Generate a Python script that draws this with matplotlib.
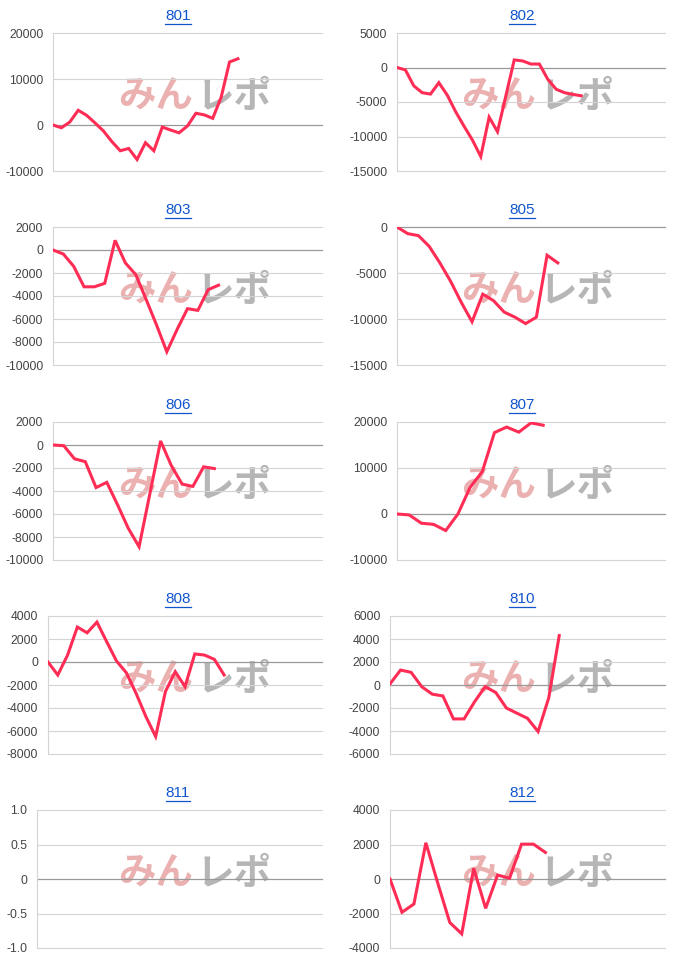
import matplotlib
matplotlib.use('Agg')
import matplotlib.pyplot as plt
from matplotlib.lines import Line2D

plt.rcParams['font.family'] = ['Liberation Sans', 'DejaVu Sans']

# data, one list per machine
titles = ['801', '802', '803', '805', '806', '807', '808', '810', '811', '812']
d801 = [0, -600, 650, 3200, 2100, 450, -1300, -3600, -5600, -5100, -7500, -3850,
        -5600, -450, -1100, -1700, -200, 2550, 2200, 1450, 6000, 13700, 14400]
d802 = [0, -350, -2650, -3650, -3850, -2200, -4000, -6400, -8500, -10500, -12900,
        -7200, -9300, -4100, 1100, 950, 500, 500, -1700, -3150, -3650, -3900, -4100]
d803 = [0, -350, -1420, -3200, -3200, -2900, 840, -1130, -2140, -4300, -6500,
        -8850, -6900, -5100, -5250, -3450, -3060]
d805 = [0, -720, -940, -2100, -3900, -5900, -8200, -10300, -7300, -8000, -9250,
        -9800, -10500, -9800, -3070, -3900]
d806 = [0, -60, -1200, -1450, -3700, -3250, -5200, -7250, -8850, -4250, 350,
        -1800, -3400, -3600, -1900, -2050]
d807 = [0, -200, -2000, -2250, -3600, 0, 5800, 9200, 17700, 18900, 17800, 19800, 19300]
d808 = [0, -1130, 600, 3040, 2540, 3470, 1760, 90, -930, -2720, -4740, -6480,
        -2570, -840, -2140, 700, 600, 230, -1130]
d810 = [100, 1300, 1100, -150, -800, -950, -2950, -2950, -1450, -150, -650,
        -2000, -2450, -2900, -4050, -1150, 4300]
d811 = []
d812 = [0, -1930, -1450, 2100, -250, -2520, -3180, 620, -1700, 230, 40, 2020, 2020, 1540]

series = [d801, d802, d803, d805, d806, d807, d808, d810, d811, d812]

yticks = [
    [-10000, 0, 10000, 20000],
    [-15000, -10000, -5000, 0, 5000],
    [-10000, -8000, -6000, -4000, -2000, 0, 2000],
    [-15000, -10000, -5000, 0],
    [-10000, -8000, -6000, -4000, -2000, 0, 2000],
    [-10000, 0, 10000, 20000],
    [-8000, -6000, -4000, -2000, 0, 2000, 4000],
    [-6000, -4000, -2000, 0, 2000, 4000, 6000],
    [-1.0, -0.5, 0, 0.5, 1.0],
    [-4000, -2000, 0, 2000, 4000],
]
ytick_labels_811 = ['-1.0', '-0.5', '0', '0.5', '1.0']

W, H = 700, 965
fig = plt.figure(figsize=(7, 9.65), dpi=100)

row_top = [33, 227, 422, 616, 810]
ax_h = 138
left_px = [53, 397, 53, 397, 53, 397, 48, 390, 37, 390]
right_px = [322, 665]
title_x = [178, 522]
mark_x = [195, 538]

line_color = '#ff2d55'
title_texts = []

for i, (name, vals, ticks) in enumerate(zip(titles, series, yticks)):
    row, col = divmod(i, 2)
    l, t = left_px[i], row_top[row]
    r, b = right_px[col], t + ax_h
    ax = fig.add_axes([l / W, 1 - b / H, (r - l) / W, ax_h / H])
    ax.set_zorder(1)
    ax.patch.set_visible(False)

    n = len(vals)
    if n:
        ax.plot(range(n), vals, color=line_color, lw=2.2, solid_joinstyle='miter',
                zorder=3)
        ax.set_xlim(0, n + 9)
    else:
        ax.set_xlim(0, 30)
    ax.set_ylim(ticks[0], ticks[-1])
    ax.set_yticks(ticks)
    if name == '811':
        ax.set_yticklabels(ytick_labels_811)
    else:
        ax.set_yticklabels([str(v) for v in ticks])
    ax.set_xticks([])
    ax.tick_params(axis='y', length=0, pad=7, labelsize=8.7, labelcolor='#444444')
    for v in ticks:
        if v == 0:
            ax.axhline(0, color='#999999', lw=0.9, zorder=2, clip_on=False)
        else:
            ax.axhline(v, color='#d4d4d4', lw=0.8, zorder=1, clip_on=False)
    for s in ['top', 'right', 'bottom']:
        ax.spines[s].set_visible(False)
    ax.spines['left'].set_color('#d4d4d4')
    ax.spines['left'].set_linewidth(0.8)

    ty = row_top[row] - 17
    tt = fig.text(title_x[col] / W, 1 - ty / H, name, ha='center', va='center',
                  fontsize=11, color='#1155cc')
    title_texts.append(tt)

    # watermark logo
    wy = 1 - (row_top[row] + 63) / H
    wx = mark_x[col] / W
    fig.text(wx - 0.002, wy, 'みん', ha='right', va='center', fontsize=27,
             fontweight='bold', family=['Noto Sans CJK JP'], color='#e8a4a4',
             alpha=0.85, zorder=0.5)
    fig.text(wx + 0.002, wy, 'レポ', ha='left', va='center', fontsize=27,
             fontweight='bold', family=['Noto Sans CJK JP'], color='#aaaaaa',
             alpha=0.85, zorder=0.5)

# underline the titles like links
fig.canvas.draw()
for tt in title_texts:
    bb = tt.get_window_extent()
    y = (bb.y0 - 1) / H
    fig.add_artist(Line2D([bb.x0 / W, bb.x1 / W], [y, y], color='#1155cc', lw=0.9))

fig.savefig('out.png', dpi=100, facecolor='white')
